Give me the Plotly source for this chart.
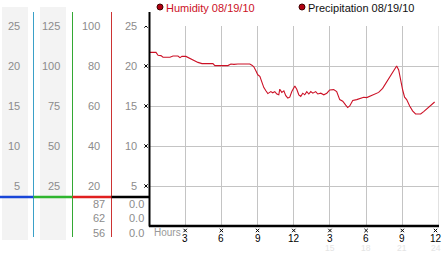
import plotly.graph_objects as go

W, H = 442, 253

# ---- data ----
hours = [0.08, 0.58, 0.75, 0.99, 1.16, 1.74, 1.99, 2.40, 2.57, 2.73, 3.06, 3.31, 3.56, 3.81,
         4.06, 4.39, 5.30, 5.46, 6.54, 6.79, 7.04, 7.37, 8.36, 8.53, 8.69, 8.86, 9.02, 9.19,
         9.35, 9.52, 9.69, 9.85, 10.10, 10.26, 10.43, 10.60, 10.76, 10.84, 11.01, 11.18, 11.34,
         11.51, 11.67, 11.84, 12.09, 12.25, 12.42, 12.58, 12.75, 12.91, 13.08, 13.25, 13.41,
         13.58, 13.82, 13.99, 14.24, 14.49, 14.74, 14.98, 15.31, 15.56, 15.81, 16.06, 16.31,
         16.47, 16.64, 16.89, 17.22, 17.47, 17.80, 18.05, 18.38, 18.71, 19.04, 19.37, 19.62,
         19.95, 20.28, 20.53, 20.70, 20.86, 21.03, 21.19, 21.36, 21.61, 21.85, 22.10, 22.52,
         22.77, 23.01, 23.26, 23.51, 23.68]
humidity = [21.7, 21.7, 21.35, 21.3, 21.1, 21.1, 21.25, 21.25, 21.05, 21.2, 21.2, 21.0, 20.85,
            20.6, 20.45, 20.3, 20.3, 20.05, 20.05, 20.25, 20.2, 20.25, 20.25, 20.1, 19.9, 19.4,
            18.9, 18.7, 17.9, 17.3, 16.9, 16.55, 16.8, 16.65, 16.8, 16.5, 16.4, 17.1, 16.7, 16.9,
            16.3, 16.0, 16.1, 16.8, 17.5, 17.1, 16.4, 16.2, 16.6, 16.4, 16.8, 16.5, 16.8, 16.6,
            16.8, 16.5, 16.6, 16.4, 16.6, 17.0, 17.05, 16.8, 15.8, 15.6, 15.1, 14.8, 15.0, 15.7,
            15.8, 15.9, 16.1, 16.05, 16.3, 16.5, 16.7, 17.2, 17.8, 18.5, 19.3, 20.0, 19.5, 18.2,
            17.0, 16.1, 15.8, 15.0, 14.4, 14.0, 14.0, 14.3, 14.6, 14.9, 15.3, 15.5]

y_ticks = [5, 10, 15, 20, 25]
col1_labels = ["5", "10", "15", "20", "25"]
col2_labels = ["25", "50", "75", "100", "125"]
col3_labels = ["20", "40", "60", "80", "100"]
col4_labels = ["5", "10", "15", "20", "25"]
low_col3 = ["87", "62", "56"]
low_col4 = ["0.0", "0.0", "0.0"]
x_ticks = [3, 6, 9, 12, 15, 18, 21, 24]
x_labels = ["3", "6", "9", "12", "3", "6", "9", "12"]
x_faint = ["", "", "", "", "15", "18", "21", "24"]
legend_names = ["Humidity 08/19/10", "Precipitation 08/19/10"]

FONT = "Liberation Sans, Arial, sans-serif"
GRAY = "#8c8c8c"

X0_PX, X1_PX = 149, 438.5
Y_TOP_PX, Y_BOT_PX = 26, 226
X_RANGE = [0, 24]
Y_RANGE = [0, 25]
HOUR_PX = (X1_PX - X0_PX) / (X_RANGE[1] - X_RANGE[0])
UNIT_PX = (Y_BOT_PX - Y_TOP_PX) / (Y_RANGE[1] - Y_RANGE[0])


def px(x):
    return x / W


def py(y):
    return 1 - y / H


fig = go.Figure()
fig.add_trace(go.Scatter(x=hours, y=humidity, mode="lines",
                         line=dict(color="#cc1126", width=1.1), showlegend=False,
                         hoverinfo="skip"))

shapes = []
# gray column backgrounds
for x0, x1 in [(2, 28), (40, 66)]:
    shapes.append(dict(type="rect", xref="paper", yref="paper", x0=px(x0), x1=px(x1),
                       y0=py(240), y1=py(7), fillcolor="#f3f3f3", line=dict(width=0), layer="below"))
# colored vertical lines
for x, c in [(33.5, "#3aa0c8"), (72.5, "#33a833"), (111.5, "#cc3333")]:
    shapes.append(dict(type="line", xref="paper", yref="paper", x0=px(x), x1=px(x),
                       y0=py(237), y1=py(12), line=dict(color=c, width=1)))
# horizontal colored separator
for x0, x1, c in [(0, 33.5, "#1846d8"), (33.5, 72.5, "#2fb52f"), (72.5, 111.5, "#e02020"),
                  (111.5, 150, "#000000")]:
    shapes.append(dict(type="line", xref="paper", yref="paper", x0=px(x0), x1=px(x1),
                       y0=py(197), y1=py(197), line=dict(color=c, width=2.5)))
# right-edge gridline
shapes.append(dict(type="line", xref="x", yref="y", x0=X_RANGE[1], x1=X_RANGE[1],
                   y0=Y_RANGE[0], y1=Y_RANGE[1],
                   line=dict(color="#c4c4c4", width=1), layer="below"))
# left black axis and bottom axis
shapes.append(dict(type="line", xref="paper", yref="paper", x0=px(149.5), x1=px(149.5),
                   y0=py(226.5), y1=py(12), line=dict(color="black", width=2)))
shapes.append(dict(type="line", xref="paper", yref="paper", x0=px(149), x1=px(439),
                   y0=py(226), y1=py(226), line=dict(color="black", width=2.5)))
# legend dots
for x in [160, 302]:
    shapes.append(dict(type="circle", xref="paper", yref="paper", x0=px(x - 3), x1=px(x + 3),
                       y0=py(10), y1=py(4), fillcolor="#b00010", line=dict(color="#400000", width=1)))


def cross(cx, cy, xref, yref, dx, dy):
    for s in (1, -1):
        shapes.append(dict(type="line", xref=xref, yref=yref, x0=cx - dx, x1=cx + dx,
                           y0=cy - s * dy, y1=cy + s * dy, line=dict(color="black", width=1)))


# small tick crosses on the left axis
for v in y_ticks:
    cross(px(146), v, "paper", "y", 1.7 / W, 1.7 / UNIT_PX)
# small tick crosses under the bottom axis
for i, t in enumerate(x_ticks):
    sh = 3 / HOUR_PX if i == len(x_ticks) - 1 else 0
    cross(t - sh, py(230.5), "x", "paper", 1.7 / HOUR_PX, 1.7 / H)

ann = []


def label(text, x, y, xref="paper", yref="paper", color=GRAY, size=11, xanchor="right",
          family=FONT, xshift=0):
    ann.append(dict(text=text, x=x, y=y, xref=xref, yref=yref, showarrow=False,
                    font=dict(family=family, size=size, color=color), xanchor=xanchor,
                    yanchor="middle", xshift=xshift, borderpad=0))


for v, a, b, c, d in zip(y_ticks, col1_labels, col2_labels, col3_labels, col4_labels):
    label(a, px(21), v, yref="y")
    label(b, px(61), v, yref="y")
    label(c, px(101), v, yref="y")
    label(d, px(138), v, yref="y")

for i, (a, b) in enumerate(zip(low_col3, low_col4)):
    yy = 204 + i * 14.3
    label(a, px(106), py(yy))
    label(b, px(145), py(yy))

label("Hours", px(153), py(232), xanchor="left", color="#999999", size=10)
for i, (t, s, f) in enumerate(zip(x_ticks, x_labels, x_faint)):
    sh = -3 if i == len(x_ticks) - 1 else 0
    label(s, t, py(238), xref="x", color="black", size=10, xanchor="center", xshift=sh)
    if f:
        label(f, t, py(248), xref="x", color="#e4e4e4", size=8.5, xanchor="center", xshift=sh)

label(legend_names[0], px(165), py(8), color="#cc1126", xanchor="left")
label(legend_names[1], px(307), py(8), color="#111111", xanchor="left")

fig.update_layout(
    width=W, height=H, margin=dict(l=0, r=0, t=0, b=0),
    paper_bgcolor="white", plot_bgcolor="white",
    xaxis=dict(domain=[px(X0_PX), px(X1_PX)], range=X_RANGE, dtick=3, tick0=0,
               showgrid=True, gridcolor="#c4c4c4", gridwidth=1, zeroline=False,
               showline=False, showticklabels=False, ticks="", fixedrange=True),
    yaxis=dict(domain=[py(Y_BOT_PX), py(Y_TOP_PX)], range=Y_RANGE, dtick=5, tick0=0,
               showgrid=True, gridcolor="#c4c4c4", gridwidth=1, zeroline=False,
               showline=False, showticklabels=False, ticks="", fixedrange=True),
    shapes=shapes, annotations=ann, showlegend=False,
)

fig.write_html("out.html", config={"displayModeBar": False})
